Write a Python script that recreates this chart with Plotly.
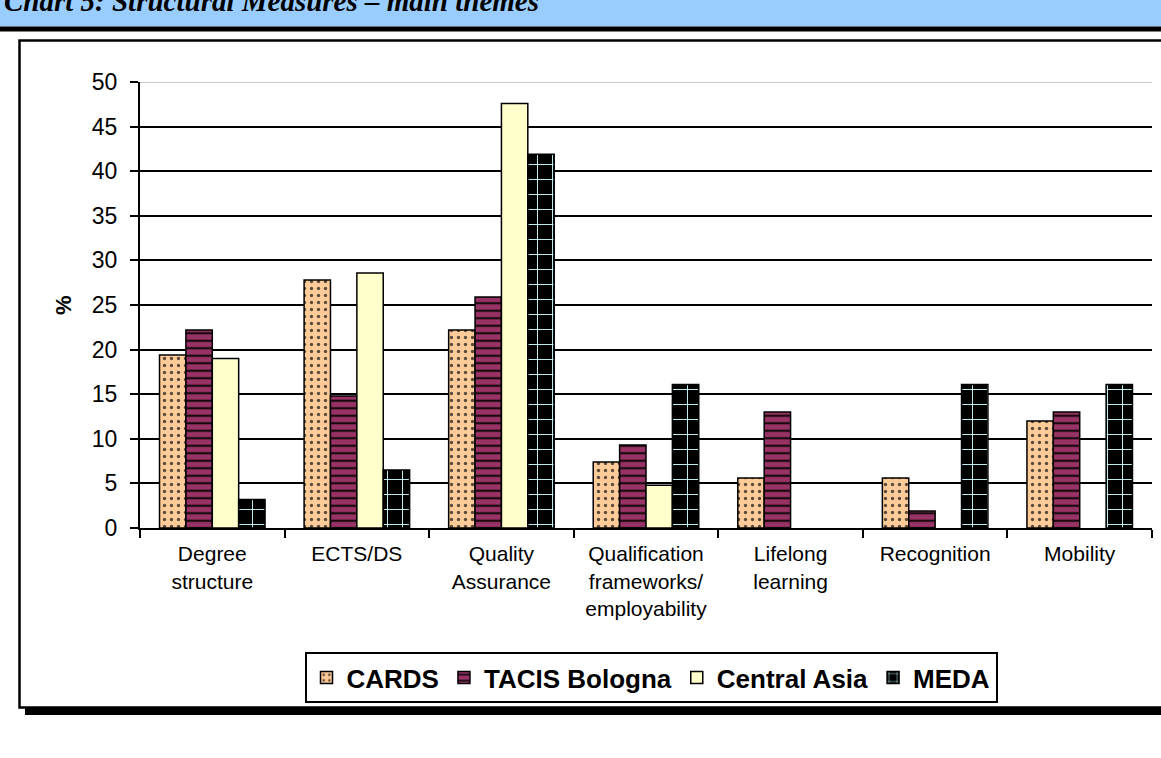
import plotly.graph_objects as go

categories = ["Degree<br>structure", "ECTS/DS", "Quality<br>Assurance",
              "Qualification<br>frameworks/<br>employability", "Lifelong<br>learning",
              "Recognition", "Mobility"]
series_names = ["CARDS", "TACIS Bologna", "Central Asia", "MEDA"]
cards = [19.4, 27.8, 22.2, 7.4, 5.6, 5.6, 12.0]
tacis = [22.2, 14.8, 25.9, 9.3, 13.0, 1.9, 13.0]
central_asia = [19.0, 28.6, 47.6, 4.8, None, None, None]
meda = [3.2, 6.5, 41.9, 16.1, None, 16.1, 16.1]
y_ticks = [0, 5, 10, 15, 20, 25, 30, 35, 40, 45, 50]
title_text = "Chart 5: Structural Measures \u2013 main themes"

W, H = 1161, 758
L, R = 140, 1152
T, B = 81.5, 528.5

def px(x):
    return (x - L) / (R - L)

def py(y):
    return (B - y) / (B - T)

FONT = "Liberation Sans, Arial, sans-serif"

fig = go.Figure()
fig.add_bar(name="<b>%s</b>" % series_names[0], x=categories, y=cards,
            marker=dict(color="#FFCC99", line=dict(color="black", width=1.5),
                        pattern=dict(shape=".", fillmode="replace", bgcolor="#FFCC99",
                                     fgcolor="#5a4a3a", size=7, solidity=0.18)))
fig.add_bar(name="<b>%s</b>" % series_names[1], x=categories, y=tacis,
            marker=dict(color="#993366", line=dict(color="black", width=1.5),
                        pattern=dict(shape="-", fillmode="replace", bgcolor="#993366",
                                     fgcolor="#1a0a10", size=7.5, solidity=0.3)))
fig.add_bar(name="<b>%s</b>" % series_names[2], x=categories, y=central_asia,
            marker=dict(color="#FFFFCC", line=dict(color="black", width=1.5)))
fig.add_bar(name="<b>%s</b>" % series_names[3], x=categories, y=meda,
            marker=dict(color="black", line=dict(color="black", width=1.5),
                        pattern=dict(shape="+", fillmode="replace", bgcolor="black",
                                     fgcolor="#CCFFFF", size=15, solidity=0.12)))

shapes = [
    # banner
    dict(type="rect", xref="paper", yref="paper", x0=px(-5), x1=px(W + 5), y0=py(26), y1=py(-5),
         fillcolor="#99CCFF", line=dict(width=0), layer="below"),
    dict(type="rect", xref="paper", yref="paper", x0=px(-5), x1=px(W + 5), y0=py(31), y1=py(26),
         fillcolor="black", line=dict(width=0), layer="below"),
    # shadow
    dict(type="rect", xref="paper", yref="paper", x0=px(25), x1=px(W + 10), y0=py(716), y1=py(709),
         fillcolor="black", line=dict(width=0), layer="below"),
    # frame
    dict(type="rect", xref="paper", yref="paper", x0=px(19.5), x1=px(W + 10), y0=py(708.5), y1=py(40),
         fillcolor="rgba(0,0,0,0)", line=dict(color="black", width=2.5), layer="below"),
    # top gridline at 50 is grey
    dict(type="line", xref="paper", yref="y", x0=0, x1=1, y0=50, y1=50,
         line=dict(color="#c8c8c8", width=2), layer="above"),
]

fig.update_layout(
    width=W, height=H,
    margin=dict(l=L, r=W - R, t=T, b=H - B, autoexpand=False),
    paper_bgcolor="white", plot_bgcolor="white",
    barmode="group", bargap=0.27, bargroupgap=0,
    font=dict(family=FONT, color="black"),
    showlegend=True,
    legend=dict(orientation="h", xanchor="center", x=px(651), yanchor="top", y=py(653),
                bordercolor="black", borderwidth=2, bgcolor="white",
                font=dict(family=FONT, size=26, color="black"),
                itemwidth=30, tracegroupgap=0, itemclick=False),
    shapes=shapes,
    annotations=[
        dict(text="<b>%</b>", xref="paper", yref="paper", x=px(63), y=py(305),
             xanchor="center", yanchor="middle",
             textangle=-90, showarrow=False, font=dict(family=FONT, size=22, color="black")),
        dict(text="<b><i>" + title_text + "</i></b>", xref="paper", yref="paper",
             x=px(2), y=py(18), xanchor="left", yanchor="bottom", showarrow=False,
             font=dict(family="Liberation Serif, Times New Roman, serif", size=29, color="black")),
    ],
)
fig.update_xaxes(type="category", showline=True, linecolor="black", linewidth=2,
                 ticks="outside", ticklen=8, tickwidth=2, tickcolor="black",
                 tickson="boundaries", showgrid=False, tickangle=0,
                 ticklabelstandoff=6,
                 tickfont=dict(family=FONT, size=21, color="black"))
fig.update_yaxes(range=[0, 50], tickvals=y_ticks, showline=True, linecolor="black", linewidth=2,
                 ticks="outside", ticklen=8, tickwidth=2, tickcolor="black",
                 showgrid=True, gridcolor="black", gridwidth=2, zeroline=False,
                 ticklabelstandoff=8,
                 tickfont=dict(family=FONT, size=23, color="black"))

fig.write_html("out.html", config={"displayModeBar": False},
               post_script="document.body.style.margin='0';")
